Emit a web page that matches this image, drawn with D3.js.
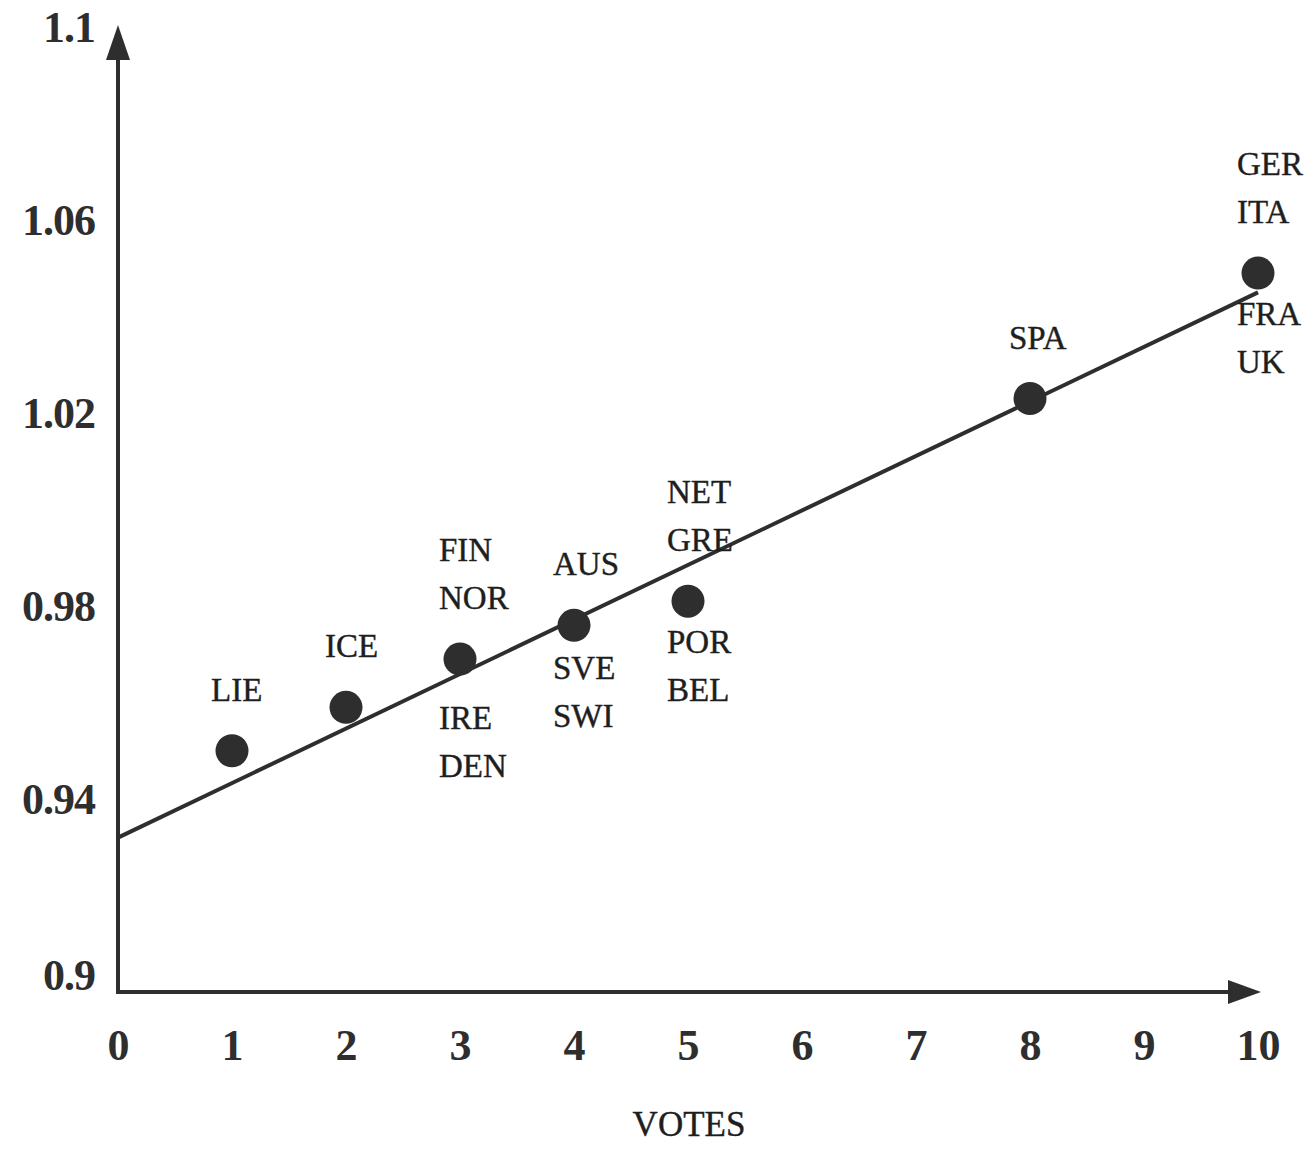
<!DOCTYPE html>
<html>
<head>
<meta charset="utf-8">
<script src="https://cdn.jsdelivr.net/npm/d3@7"></script>
<style>
  body { margin: 0; background: #fff; }
  svg { display: block; }
</style>
</head>
<body>
<div id="vis"></div>
<script>
// data
const votes = [1, 2, 3, 4, 5, 8, 10];
const index = [0.950, 0.959, 0.969, 0.976, 0.981, 1.023, 1.049];
const namesAbove = [["LIE"], ["ICE"], ["FIN", "NOR"], ["AUS"], ["NET", "GRE"], ["SPA"], ["GER", "ITA"]];
const namesBelow = [[], [], ["IRE", "DEN"], ["SVE", "SWI"], ["POR", "BEL"], [], ["FRA", "UK"]];
const xTicks = [0, 1, 2, 3, 4, 5, 6, 7, 8, 9, 10];
const yTicks = [0.9, 0.94, 0.98, 1.02, 1.06, 1.1];
const yTickLabels = ["0.9", "0.94", "0.98", "1.02", "1.06", "1.1"];
const fitIntercept = 0.932;
const fitSlope = 0.0113;
const xTitle = "VOTES";

const width = 1314;
const height = 1149;
const ink = "#2e2e2e";
const serif = "'Liberation Serif', 'Times New Roman', serif";

// the IRE/DEN stack sits a bit lower than the others in the scan
const belowGap = [52, 52, 70, 54, 52, 52, 52];

const x = d3.scaleLinear().domain([0, 10]).range([118, 1258]);
const y = d3.scaleLinear().domain([0.9, 1.1]).range([992, 27]);

const svg = d3.select("#vis")
  .append("svg")
  .attr("width", width)
  .attr("height", height);

svg.append("rect").attr("width", width).attr("height", height).attr("fill", "#fff");

// axes lines with arrow heads
svg.append("line")
  .attr("x1", x(0)).attr("y1", y(0.9))
  .attr("x2", x(0)).attr("y2", 55)
  .attr("stroke", ink).attr("stroke-width", 4);
svg.append("path")
  .attr("d", `M${x(0)},25 L${x(0) - 12},60 L${x(0) + 12},60 Z`)
  .attr("fill", ink);

svg.append("line")
  .attr("x1", x(0) - 2).attr("y1", y(0.9))
  .attr("x2", 1232).attr("y2", y(0.9))
  .attr("stroke", ink).attr("stroke-width", 4);
svg.append("path")
  .attr("d", `M1261,${y(0.9)} L1228,${y(0.9) - 12} L1228,${y(0.9) + 12} Z`)
  .attr("fill", ink);

// tick labels via d3 axes, no tick marks
const xAxis = svg.append("g")
  .attr("transform", `translate(0,${y(0.9)})`)
  .call(d3.axisBottom(x).tickValues(xTicks).tickSize(0).tickPadding(0).tickFormat(d3.format("d")));
xAxis.select(".domain").remove();
xAxis.selectAll("text")
  .attr("y", 68)
  .attr("dy", 0)
  .attr("font-family", serif)
  .attr("font-weight", "bold")
  .attr("font-size", 44)
  .attr("fill", ink);

const yAxis = svg.append("g")
  .attr("transform", `translate(95,0)`)
  .call(d3.axisLeft(y).tickValues(yTicks).tickSize(0).tickPadding(0)
    .tickFormat((d, i) => yTickLabels[i]));
yAxis.select(".domain").remove();
yAxis.selectAll("text")
  .attr("x", 0)
  .attr("dy", (d, i) => i === 0 ? "-0.05em" : "0.33em")
  .attr("font-family", serif)
  .attr("font-weight", "bold")
  .attr("font-size", 44)
  .attr("letter-spacing", -1)
  .attr("fill", ink);

// fitted line
svg.append("line")
  .attr("x1", x(0)).attr("y1", y(fitIntercept))
  .attr("x2", x(10)).attr("y2", y(fitIntercept + fitSlope * 10))
  .attr("stroke", ink).attr("stroke-width", 4);

// points
const points = votes.map((v, i) => ({ v, idx: index[i], above: namesAbove[i], below: namesBelow[i], gap: belowGap[i] }));

svg.selectAll(".dot")
  .data(points)
  .enter()
  .append("circle")
  .attr("class", "dot")
  .attr("cx", d => x(d.v))
  .attr("cy", d => y(d.idx))
  .attr("r", 16.5)
  .attr("fill", ink);

// country labels, stacked above and below each point
const labels = svg.append("g")
  .attr("font-family", serif)
  .attr("font-size", 33)
  .attr("fill", "#1e1e1e")
  .attr("stroke", "#1e1e1e")
  .attr("stroke-width", 0.4);

points.forEach(p => {
  const lx = x(p.v) - 21;
  const cy = y(p.idx);
  const n = p.above.length;
  p.above.forEach((name, k) => {
    labels.append("text")
      .attr("x", lx)
      .attr("y", cy - 50 - 48 * (n - 1 - k))
      .text(name);
  });
  p.below.forEach((name, k) => {
    labels.append("text")
      .attr("x", lx)
      .attr("y", cy + p.gap + 48 * k)
      .text(name);
  });
});

// axis title
svg.append("text")
  .attr("x", 689)
  .attr("y", 1136)
  .attr("text-anchor", "middle")
  .attr("font-family", serif)
  .attr("font-size", 35)
  .attr("fill", "#1e1e1e")
  .attr("stroke", "#1e1e1e")
  .attr("stroke-width", 0.4)
  .text(xTitle);
</script>
</body>
</html>
